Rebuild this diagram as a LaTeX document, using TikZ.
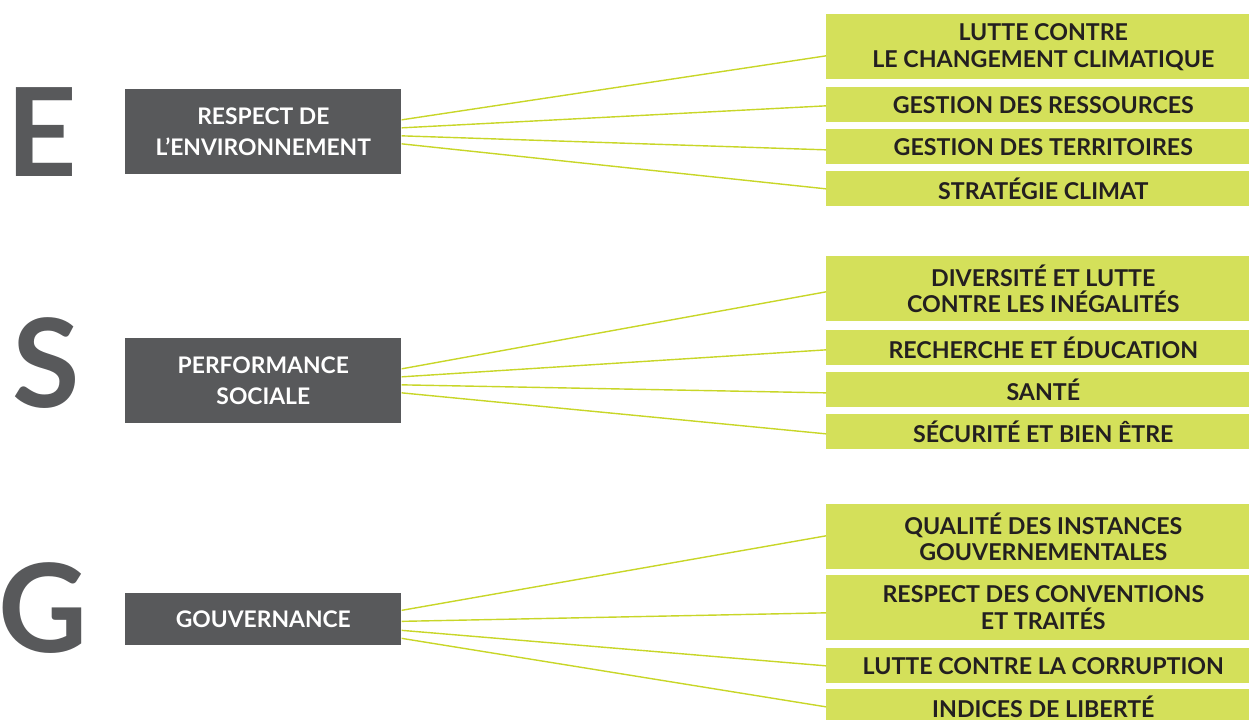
\documentclass[tikz,border=0pt]{standalone}
\usepackage{fontspec}
\setmainfont{Lato}
\usetikzlibrary{calc}

\definecolor{esggrey}{RGB}{88,89,91}
\definecolor{esggreen}{RGB}{212,224,90}
\definecolor{esgline}{RGB}{200,214,40}
\definecolor{esgtext}{RGB}{35,31,32}

\begin{document}
\begin{tikzpicture}[x=0.02cm, y=-0.02cm,
		pillar/.style={anchor=north west, fill=esggrey, text=white, minimum width=5.52cm, align=center, inner sep=0pt, font=\bfseries\fontsize{13}{17.6}\selectfont},
		theme/.style={anchor=north west, fill=esggreen, text=esgtext, minimum width=8.68cm, align=center, inner sep=0pt, font=\bfseries\fontsize{13.2}{15.3}\selectfont},
		letter/.style={anchor=base, text=esggrey, inner sep=0pt, font=\bfseries\fontsize{70}{70}\selectfont},
		link/.style={esgline, line width=0.8pt}]
		\useasboundingbox (0,0) rectangle (1249,720);

		% E
		\node[letter] (le) at (41.5,176) {E};
		\node[pillar, minimum height=1.7cm] (pe) at (125,89) {RESPECT DE\\L’ENVIRONNEMENT};
		\node[theme, minimum height=1.3cm] (e1) at (826,14) {LUTTE CONTRE\\LE CHANGEMENT CLIMATIQUE};
		\node[theme, minimum height=0.7cm] (e2) at (826,87) {GESTION DES RESSOURCES};
		\node[theme, minimum height=0.7cm] (e3) at (826,129) {GESTION DES TERRITOIRES};
		\node[theme, minimum height=0.7cm] (e4) at (826,171) {STRATÉGIE CLIMAT};

		% S
		\node[letter] (ls) at (46,407) {S};
		\node[pillar, minimum height=1.7cm] (ps) at (125,338) {PERFORMANCE\\SOCIALE};
		\node[theme, minimum height=1.3cm] (s1) at (826,256) {DIVERSITÉ ET LUTTE\\CONTRE LES INÉGALITÉS};
		\node[theme, minimum height=0.7cm] (s2) at (826,330) {RECHERCHE ET ÉDUCATION};
		\node[theme, minimum height=0.7cm] (s3) at (826,372) {SANTÉ};
		\node[theme, minimum height=0.7cm] (s4) at (826,414) {SÉCURITÉ ET BIEN ÊTRE};

		% G
		\node[letter] (lg) at (43,652) {G};
		\node[pillar, minimum height=1.04cm] (pg) at (125,593) {GOUVERNANCE};
		\node[theme, minimum height=1.3cm] (g1) at (826,504) {QUALITÉ DES INSTANCES\\GOUVERNEMENTALES};
		\node[theme, minimum height=1.3cm] (g2) at (826,575) {RESPECT DES CONVENTIONS\\ET TRAITÉS};
		\node[theme, minimum height=0.7cm] (g3) at (826,648) {LUTTE CONTRE LA CORRUPTION};
		\node[theme, minimum height=0.7cm] (g4) at (826,689) {INDICES DE LIBERTÉ};

		\draw[link] ($(pe.east)+(0,-12)$) -- ($(e1.west)+(0,9)$);
		\draw[link] ($(pe.east)+(0,-4)$) -- ($(e2.west)+(0,1)$);
		\draw[link] ($(pe.east)+(0,4)$) -- ($(e3.west)+(0,3)$);
		\draw[link] ($(pe.east)+(0,12)$) -- (e4.west);

		\draw[link] ($(ps.east)+(0,-12)$) -- ($(s1.west)+(0,3)$);
		\draw[link] ($(ps.east)+(0,-4)$) -- ($(s2.west)+(0,2)$);
		\draw[link] ($(ps.east)+(0,4)$) -- ($(s3.west)+(0,3)$);
		\draw[link] ($(ps.east)+(0,12)$) -- ($(s4.west)+(0,2)$);

		\draw[link] ($(pg.east)+(0,-9)$) -- ($(g1.west)+(0,-1)$);
		\draw[link] ($(pg.east)+(0,2)$) -- ($(g2.west)+(0,5)$);
		\draw[link] ($(pg.east)+(0,11)$) -- (g3.west);
		\draw[link] ($(pg.east)+(0,19)$) -- (g4.west);
	\end{tikzpicture}
\end{document}
